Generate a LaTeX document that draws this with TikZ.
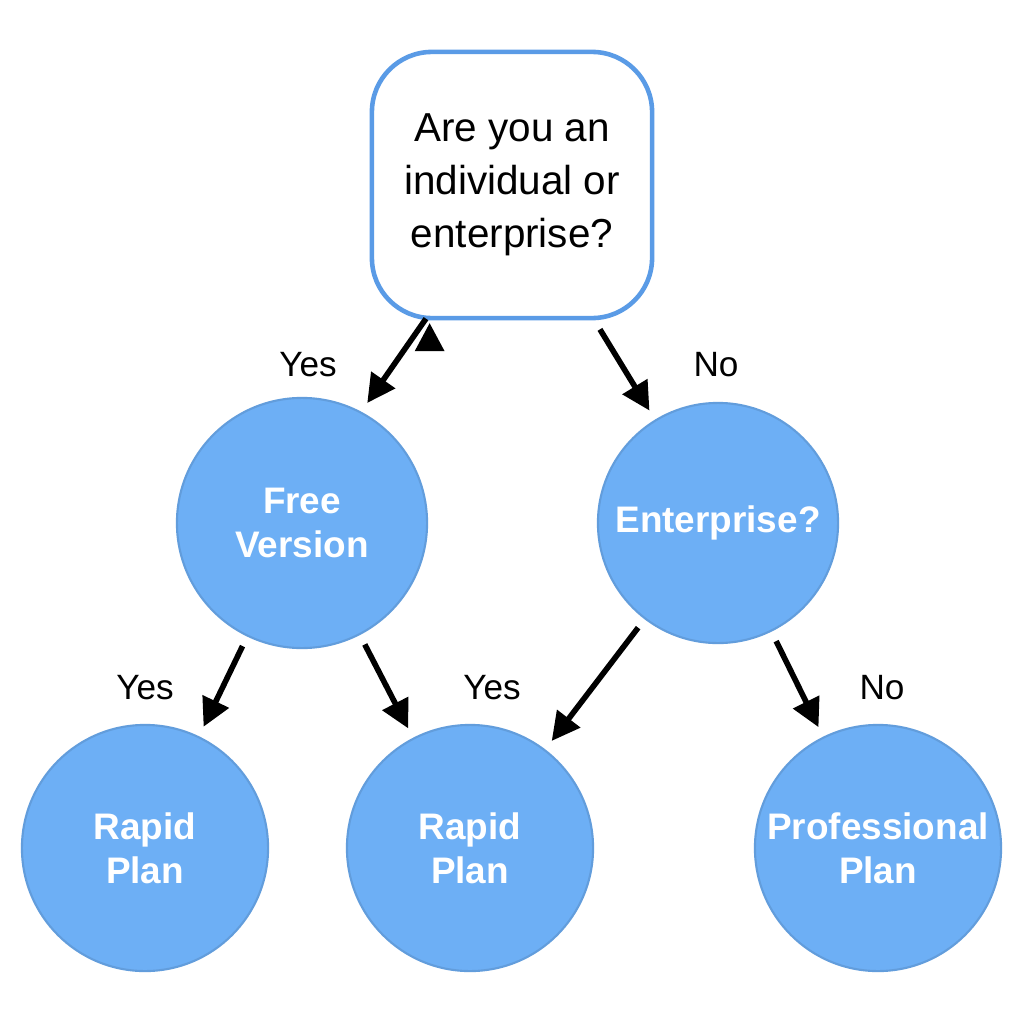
\documentclass[tikz,border=0pt]{standalone}
\usepackage{fontspec}
\setmainfont{Liberation Sans}
\usetikzlibrary{arrows.meta}
\definecolor{cfill}{HTML}{6DAFF5}
\definecolor{cbord}{HTML}{5A9BE6}
\begin{document}
\begin{tikzpicture}[x=0.01cm,y=-0.01cm,
  circ/.style={circle,fill=cfill,draw=cfill!90!black,line width=0.6pt,text=white,font=\fontsize{10.5}{12.5}\selectfont\bfseries,align=center,inner sep=0pt},
  arr/.style={-{Triangle[length=8pt,width=8pt]},line width=1.6pt,shorten >=3pt,shorten <=3pt},
  lab/.style={font=\fontsize{10}{12}\selectfont}]
\useasboundingbox[fill=white] (0,0) rectangle (1024,1024);
\node[draw=cbord,line width=1.3pt,fill=white,rounded corners=0.6cm,minimum width=2.8cm,minimum height=2.66cm,align=center,font=\fontsize{11.5}{15}\selectfont] (top) at (512,185) {Are you an\\individual or\\enterprise?};
\node[circ,minimum size=2.5cm] (free) at (302,523) {Free\\Version};
\node[circ,minimum size=2.4cm] (ent) at (718,523) {Enterprise?};
\node[circ,minimum size=2.46cm] (r1) at (145,848) {Rapid\\Plan};
\node[circ,minimum size=2.46cm] (r2) at (470,848) {Rapid\\Plan};
\node[circ,minimum size=2.46cm] (pro) at (878,848) {Professional\\Plan};
\draw[arr] (top.south west)++(60,-8) coordinate (a1);
\draw[arr] (432,310) coordinate (s1) -- (free.62);
\draw[arr] (top) -- (ent);
\draw[arr] (free) -- (r1);
\draw[arr] (free) -- (r2);
\draw[arr] (ent) -- (r2);
\draw[arr] (ent) -- (pro);
\node[lab] (l1) at (308,365) {Yes};
\node[lab] (l2) at (716,365) {No};
\node[lab] (l3) at (145,688) {Yes};
\node[lab] (l4) at (492,688) {Yes};
\node[lab] (l5) at (882,688) {No};
\end{tikzpicture}
\end{document}
